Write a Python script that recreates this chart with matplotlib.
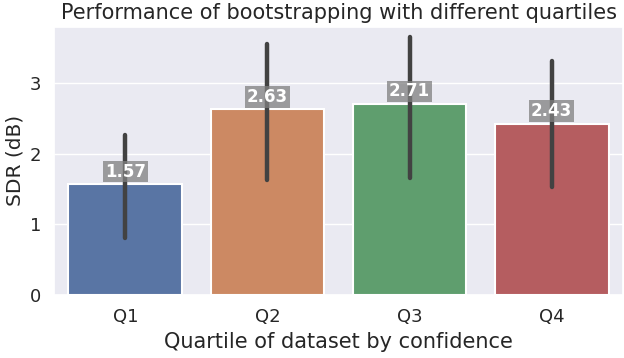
import numpy as np
import matplotlib
matplotlib.use('Agg')
import matplotlib.pyplot as plt
import seaborn as sns

sns.set_theme(style='darkgrid')
plt.rcParams['font.family'] = ['DejaVu Sans']

quartiles = ['Q1', 'Q2', 'Q3', 'Q4']
sdr_mean = [1.57, 2.63, 2.71, 2.43]
ci_low = [0.81, 1.63, 1.66, 1.53]
ci_high = [2.27, 3.56, 3.66, 3.31]

palette = [sns.desaturate(c, 0.75) for c in sns.color_palette('deep', 4)]

fig, ax = plt.subplots(figsize=(6.24, 3.58), dpi=100)
x = np.arange(len(quartiles))
ax.bar(x, sdr_mean, width=0.8, color=palette, edgecolor='white', linewidth=1.5, zorder=2)
for i in range(len(quartiles)):
    ax.plot([x[i], x[i]], [ci_low[i], ci_high[i]], color='.26', lw=3.2,
            solid_capstyle='round', zorder=3)
    ax.text(x[i], sdr_mean[i] + 0.05, f'{sdr_mean[i]:.2f}', ha='center', va='bottom',
            color='white', fontsize=12, fontweight='bold', zorder=4,
            bbox=dict(facecolor='gray', edgecolor='none', alpha=0.75, pad=1.2))

ax.set_xticks(x)
ax.set_xticklabels(quartiles)
ax.set_xlim(-0.5, 3.5)
ax.set_ylim(0, 3.8)
ax.set_yticks([0, 1, 2, 3])
ax.grid(axis='x', visible=False)
ax.tick_params(labelsize=13)
ax.set_xlabel('Quartile of dataset by confidence', fontsize=15)
ax.set_ylabel('SDR (dB)', fontsize=14.5)
ax.set_title('Performance of bootstrapping with different quartiles', fontsize=15)

fig.subplots_adjust(left=0.087, right=0.998, top=0.925, bottom=0.176)
fig.savefig('out.png', dpi=100)
plt.close()
